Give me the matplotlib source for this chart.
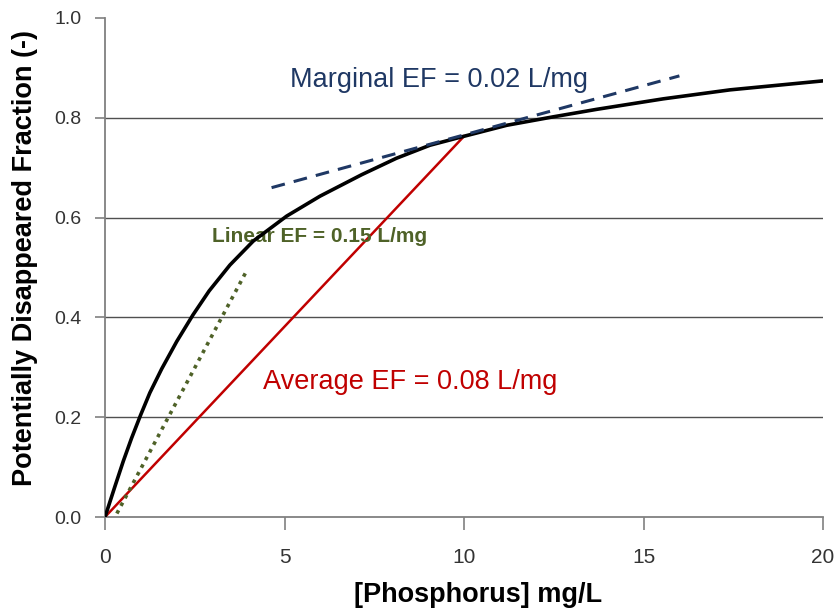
import matplotlib
matplotlib.use("Agg")
import matplotlib.pyplot as plt

# Saturation curve
p_conc = [0, 0.28, 0.51, 0.74, 0.99, 1.25, 1.58, 2.0, 2.45, 2.9, 3.48, 4.13, 5.06,
          5.99, 7.15, 8.12, 9.05, 10.0, 11.19, 12.49, 13.7, 15.55, 17.41, 20.0]
frac = [0, 0.062, 0.112, 0.158, 0.204, 0.249, 0.297, 0.352, 0.405, 0.453, 0.505, 0.553, 0.603,
        0.643, 0.686, 0.719, 0.745, 0.763, 0.785, 0.802, 0.817, 0.838, 0.856, 0.874]

# Straight lines (end points)
avg_x = [0, 10.0]
avg_y = [0, 0.763]
lin_x = [0.33, 3.95]
lin_y = [0.007, 0.494]
marg_x = [4.64, 16.0]
marg_y = [0.66, 0.884]

xticks = [0, 5, 10, 15, 20]
yticks = [0.0, 0.2, 0.4, 0.6, 0.8, 1.0]

plt.rcParams['font.family'] = ['Liberation Sans', 'DejaVu Sans']

fig = plt.figure(figsize=(8.37, 6.12), dpi=100)
ax = fig.add_axes([105 / 837, 1 - 517 / 612, 718 / 837, 499 / 612])

ax.plot(p_conc, frac, color='black', lw=2.6, solid_capstyle='round',
        solid_joinstyle='round', zorder=4)
ax.plot(avg_x, avg_y, color='#c00000', lw=1.8, zorder=3)
ax.plot(lin_x, lin_y, color='#4f6228', lw=2.6, linestyle=(0, (1, 1.4)), zorder=3)
ax.plot(marg_x, marg_y, color='#1f3864', lw=2.2, linestyle=(0, (4.5, 3)), zorder=5)

ax.text(5.15, 0.876, 'Marginal EF = 0.02 L/mg', color='#1f3864', fontsize=19.5, va='center')
ax.text(4.4, 0.27, 'Average EF = 0.08 L/mg', color='#c00000', fontsize=19.5, va='center')
ax.text(2.98, 0.563, 'Linear EF = 0.15 L/mg', color='#4f6228', fontsize=15,
        fontweight='bold', va='center')

ax.set_xlim(0, 20)
ax.set_ylim(0, 1.0)
ax.set_xticks(xticks)
ax.set_yticks(yticks)
ax.set_yticklabels([f'{v:.1f}' for v in yticks])

ax.yaxis.grid(True, color='#505050', lw=1.0)
ax.yaxis.get_gridlines()[-1].set_visible(False)
ax.yaxis.get_gridlines()[0].set_visible(False)
ax.set_axisbelow(True)

for side in ['top', 'right']:
    ax.spines[side].set_visible(False)
for side in ['left', 'bottom']:
    ax.spines[side].set_color('#808080')
    ax.spines[side].set_linewidth(1.3)

ax.tick_params(axis='y', direction='out', length=7, width=1.2, color='#808080',
               labelsize=14, labelcolor='#333333', pad=10)
ax.tick_params(axis='x', direction='out', length=9, width=1.2, color='#808080',
               labelsize=15, labelcolor='#333333', pad=13)

ax.set_xlabel('[Phosphorus] mg/L', fontsize=19.5, fontweight='bold')
ax.xaxis.set_label_coords(0.5195, -0.156)
ax.xaxis.label.set_va('center')
ax.set_ylabel('Potentially Disappeared Fraction (-)', fontsize=19.5, fontweight='bold')
ax.yaxis.set_label_coords(-0.111, 0.519)
ax.yaxis.label.set_va('center')

fig.savefig('out.png', dpi=100)
